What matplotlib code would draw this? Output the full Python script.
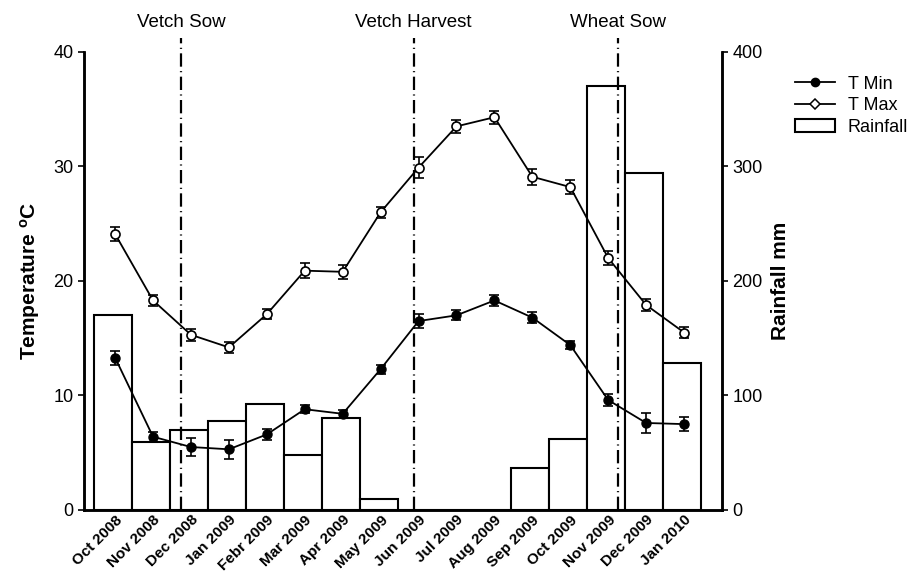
import matplotlib
matplotlib.use("Agg")
import matplotlib.pyplot as plt
import matplotlib.transforms as mtransforms
from matplotlib.lines import Line2D
from matplotlib.patches import Patch
import numpy as np

plt.rcParams['font.family'] = ['Liberation Sans', 'DejaVu Sans']

# data
months = ['Oct 2008', 'Nov 2008', 'Dec 2008', 'Jan 2009', 'Febr 2009', 'Mar 2009',
          'Apr 2009', 'May 2009', 'Jun 2009', 'Jul 2009', 'Aug 2009', 'Sep 2009',
          'Oct 2009', 'Nov 2009', 'Dec 2009', 'Jan 2010']
t_min = [13.3, 6.4, 5.5, 5.3, 6.6, 8.8, 8.4, 12.3, 16.5, 17.0, 18.3, 16.8, 14.4, 9.6, 7.6, 7.5]
t_min_err = [0.6, 0.45, 0.8, 0.85, 0.5, 0.35, 0.35, 0.4, 0.6, 0.45, 0.5, 0.45, 0.35, 0.55, 0.9, 0.6]
t_max = [24.1, 18.3, 15.3, 14.2, 17.1, 20.9, 20.8, 26.0, 29.9, 33.5, 34.3, 29.1, 28.2, 22.0, 17.9, 15.5]
t_max_err = [0.6, 0.5, 0.5, 0.45, 0.45, 0.65, 0.6, 0.5, 0.9, 0.6, 0.55, 0.7, 0.6, 0.6, 0.5, 0.5]
rainfall = [170, 59, 70, 78, 93, 48, 80, 10, 0, 0, 0, 37, 62, 370, 294, 128]

events = ['Vetch Sow', 'Vetch Harvest', 'Wheat Sow']
event_pos = [1.74, 7.87, 13.25]

x = np.arange(len(months))

fig = plt.figure(figsize=(9.09, 5.74), dpi=100)
ax = fig.add_axes([0.0924, 0.1115, 0.7019, 0.798])
ax2 = ax.twinx()

# rainfall bars on the right axis, behind the lines
ax2.bar(x - 0.05, rainfall, width=1.0, facecolor='white', edgecolor='black', linewidth=1.5)
ax2.set_ylim(0, 400)
ax2.set_yticks([0, 100, 200, 300, 400])
ax2.set_ylabel('Rainfall mm', fontsize=15, fontweight='bold', labelpad=6)

ax.set_zorder(ax2.get_zorder() + 1)
ax.patch.set_visible(False)

ax.errorbar(x, t_max, yerr=t_max_err, color='black', lw=1.3, marker='o', ms=6.5,
            mfc='white', mec='black', mew=1.2, capsize=3.6, elinewidth=1.2, capthick=1.2)
ax.errorbar(x, t_min, yerr=t_min_err, color='black', lw=1.3, marker='o', ms=6.5,
            mfc='black', mec='black', capsize=3.6, elinewidth=1.2, capthick=1.2)

for name, pos in zip(events, event_pos):
    ax.plot([pos, pos], [0, 41.25], color='black', lw=1.6,
            linestyle=(0, (6, 2, 0.5, 2)), clip_on=False)
    ax.text(pos, 42.2, name, ha='center', va='baseline', fontsize=13.5)

ax.set_xlim(-0.82, 16.0)
ax.set_ylim(0, 40)
ax.set_yticks([0, 10, 20, 30, 40])
ax.set_xticks(x)
ax.set_xticklabels(months, rotation=45, ha='right', rotation_mode='anchor',
                   fontsize=11, fontweight='bold')
shift = mtransforms.ScaledTranslation(-4 / 100, 0, fig.dpi_scale_trans)
for lbl in ax.get_xticklabels():
    lbl.set_transform(lbl.get_transform() + shift)
ax.set_ylabel('Temperature $\\mathregular{^o}$C', fontsize=15, fontweight='bold', labelpad=8)

for a in (ax, ax2):
    a.spines['top'].set_visible(False)
    for s in ('left', 'right', 'bottom'):
        a.spines[s].set_linewidth(1.8)
    a.tick_params(axis='y', labelsize=13, length=4, width=1.2, direction='out')
    a.tick_params(axis='x', length=0, pad=2)

handles = [Line2D([], [], color='black', lw=1.3, marker='o', ms=6, mfc='black'),
           Line2D([], [], color='black', lw=1.3, marker='D', ms=5.5, mfc='white', mew=1.1),
           Patch(facecolor='white', edgecolor='black', linewidth=1.5)]
fig.legend(handles, ['T Min', 'T Max', 'Rainfall'], loc='upper left',
           bbox_to_anchor=(0.875, 0.868), frameon=False, fontsize=13,
           handlelength=2.2, handletextpad=0.7, labelspacing=0.25, handleheight=0.7,
           borderpad=0, borderaxespad=0)

fig.savefig('out.png', dpi=100)
